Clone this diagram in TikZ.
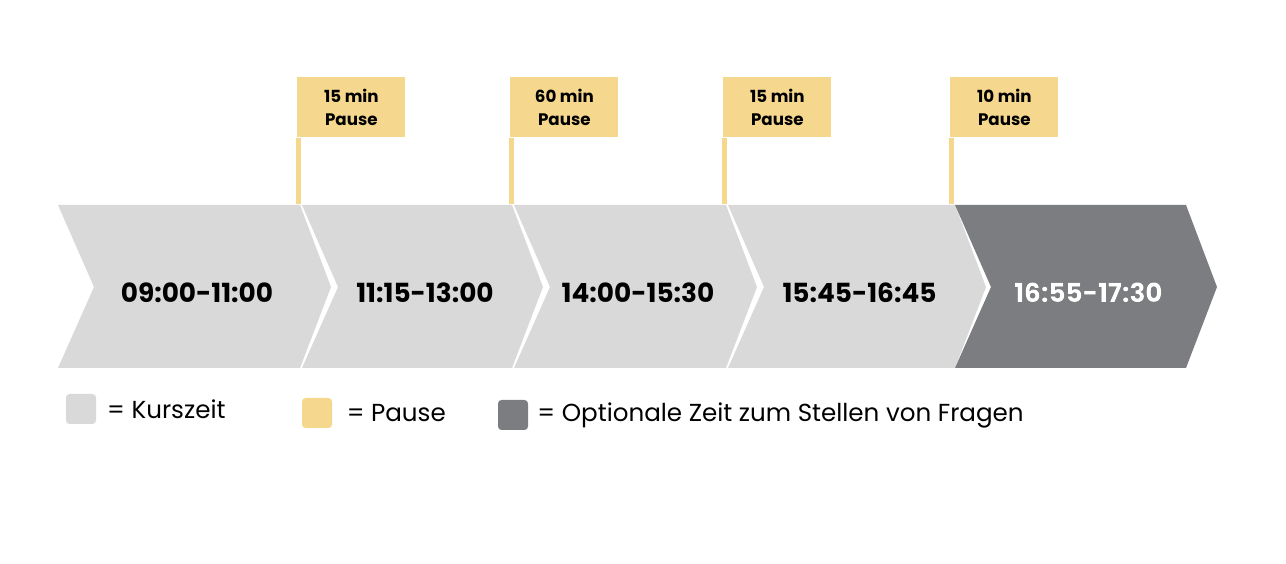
\documentclass[tikz,border=0pt]{standalone}
\usepackage{fontspec}
\setmainfont{Poppins}
\usetikzlibrary{positioning}
\definecolor{kurs}{HTML}{D9D9D9}
\definecolor{frage}{HTML}{7B7D80}
\definecolor{pause}{HTML}{F5D78E}
\begin{document}
\begin{tikzpicture}[x=0.02cm,y=-0.02cm]
    \tikzstyle{zeit} = [font=\bfseries\fontsize{15}{18}\selectfont]
    \tikzstyle{fahne} = [fill=pause, minimum width=108*0.02cm, minimum height=60*0.02cm, align=center, font=\bfseries\fontsize{9.5}{13}\selectfont, inner sep=0pt]
    \tikzstyle{legende} = [font=\fontsize{14}{16}\selectfont, anchor=west, inner sep=0pt]
    \useasboundingbox (0,0) rectangle (1286,564);
    % Pfeile
    \foreach \l/\r/\c/\t/\n in {58/300/kurs/09:00-11:00/z1, 302/512/kurs/11:15-13:00/z2,
        514/726/kurs/14:00-15:30/z3, 728/955/kurs/15:45-16:45/z4, 955/1186/frage/16:55-17:30/z5} {
        \fill[\c] (\l,205) -- (\r,205) -- (\r+31,287) -- (\r,368) -- (\l,368) -- (\l+36,287) -- cycle;
        \node (\n) [zeit] at ({(\l+\r)/2+18},293) {\t};
    }
    \node[text=white] [zeit] at (z5) {16:55-17:30};
    % Pausen
    \foreach \x/\t/\n in {297/15/p1, 510/60/p2, 723/15/p3, 950/10/p4} {
        \node (\n) [fahne, anchor=north west] at (\x,77) {\t{} min\\Pause};
        \draw[pause, line width=2.5pt] (\n.south west) ++(1.5,0) -- ++(0,66);
    }
    % Legende
    \node (k) [fill=kurs, rounded corners=2pt, minimum size=30*0.02cm] at (81,409) {};
    \node (kt) [legende] [right=6pt of k] {= Kurszeit};
    \node (p) [fill=pause, rounded corners=2pt, minimum size=30*0.02cm] at (317,413) {};
    \node (pt) [legende] [right=8pt of p] {= Pause};
    \node (f) [fill=frage, rounded corners=2pt, minimum size=30*0.02cm] at (513,415) {};
    \node (ft) [legende] [right=5pt of f] {= Optionale Zeit zum Stellen von Fragen};
\end{tikzpicture}
\end{document}
